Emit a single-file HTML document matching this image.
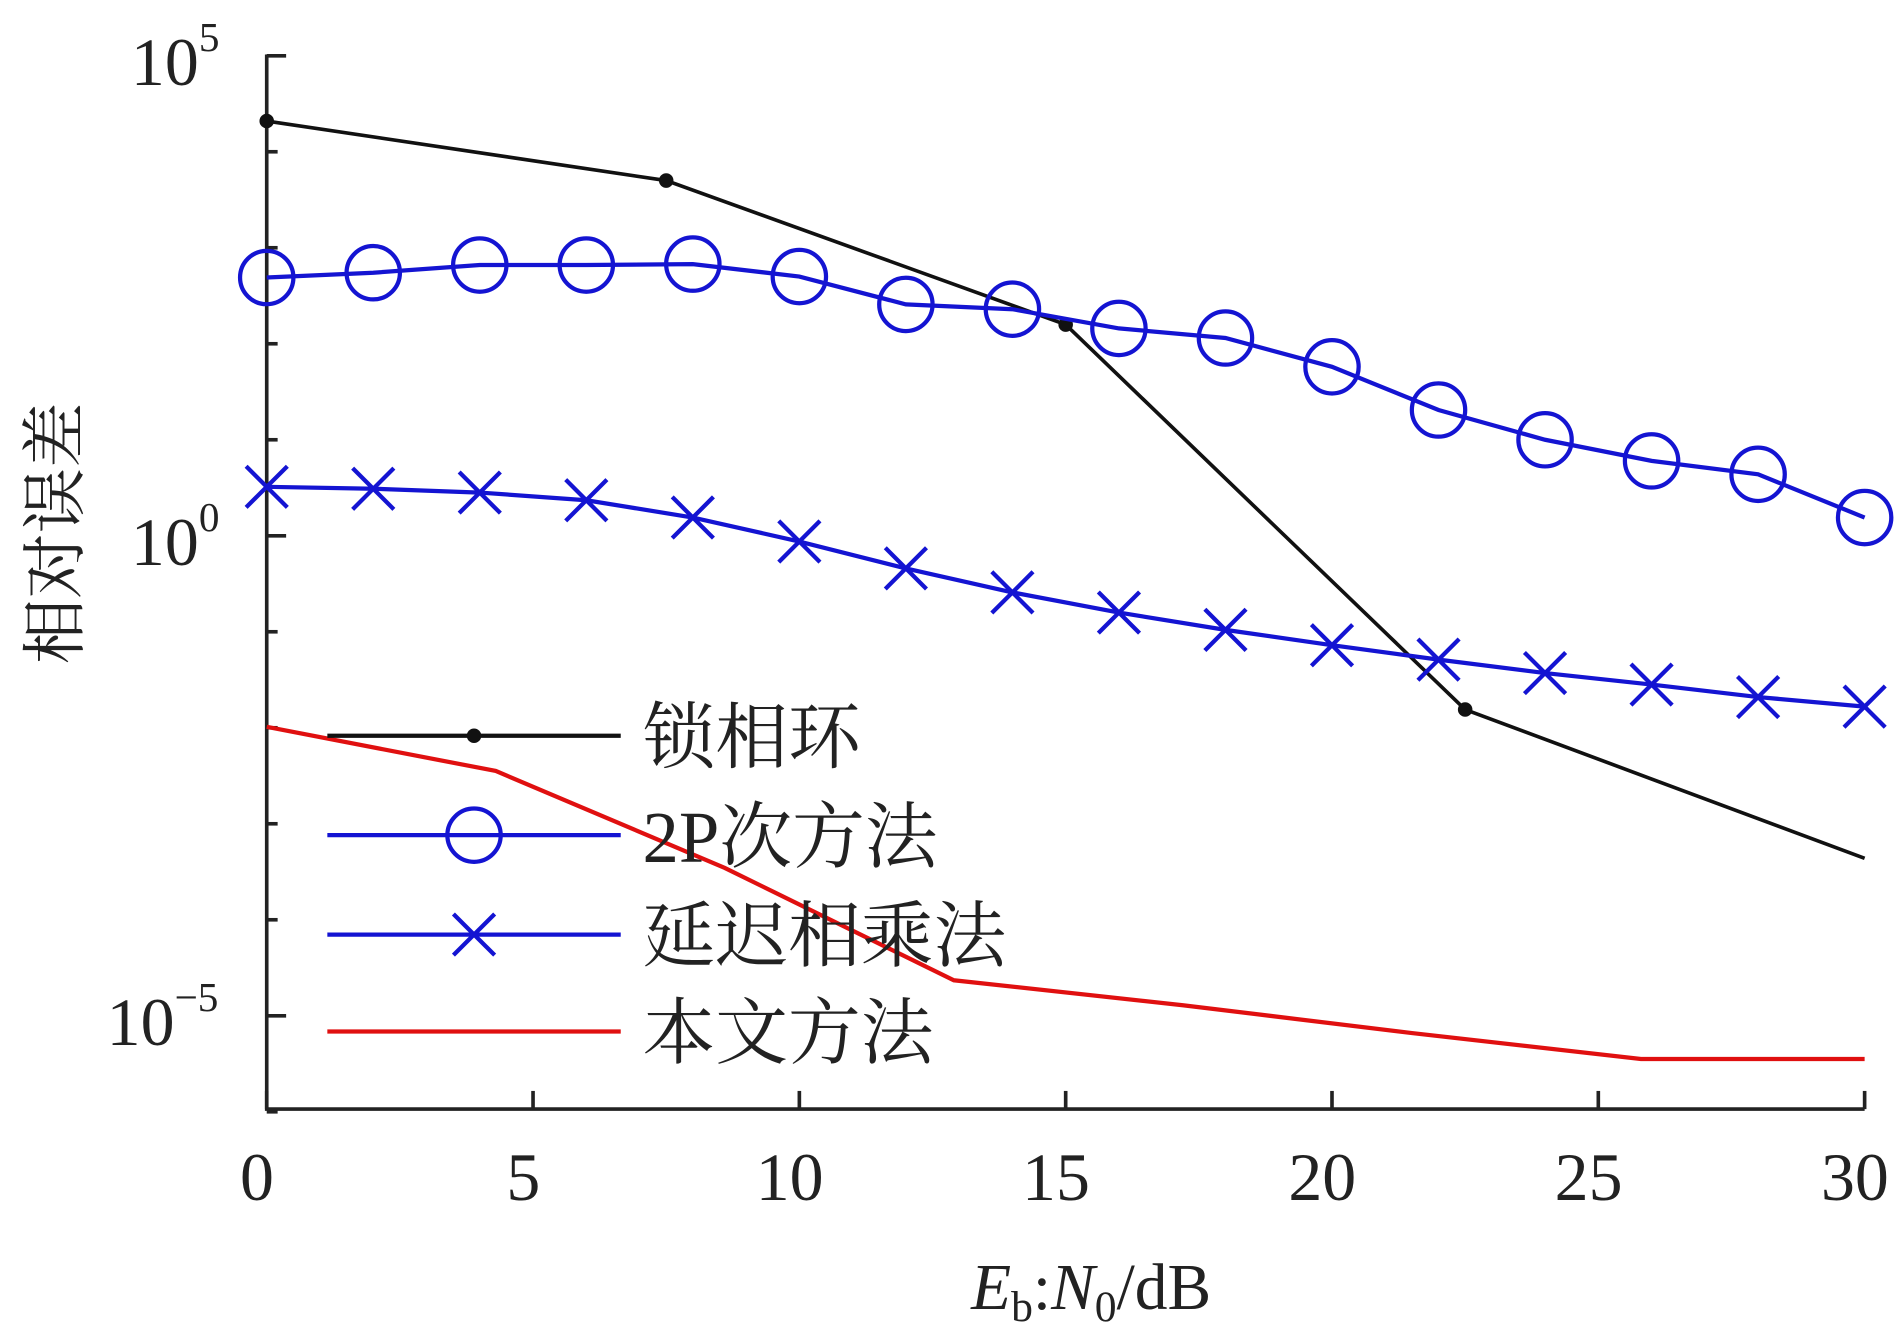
<!DOCTYPE html>
<html><head><meta charset="utf-8"><style>
html,body{margin:0;padding:0;background:#fff;}
svg{display:block;}
text{font-family:"Liberation Serif","Noto Serif CJK SC",serif;fill:#222;}
</style></head><body>
<svg id="chart" width="1901" height="1337" viewBox="0 0 1568 1103" preserveAspectRatio="none" xmlns="http://www.w3.org/2000/svg"></svg>
<script>
const xTicks=[0,5,10,15,20,25,30];
const pllX=[0,7.5,15,22.5,30];
const pllLog=[4.32,3.70,2.20,-1.81,-3.36];
const pllMarked=[true,true,true,true,false];
const twoPX=[0,2,4,6,8,10,12,14,16,18,20,22,24,26,28,30];
const twoPLog=[2.69,2.74,2.82,2.82,2.83,2.70,2.41,2.36,2.16,2.06,1.76,1.31,1.00,0.78,0.64,0.19];
const delayX=[0,2,4,6,8,10,12,14,16,18,20,22,24,26,28,30];
const delayLog=[0.51,0.49,0.45,0.37,0.19,-0.06,-0.34,-0.59,-0.80,-0.98,-1.14,-1.29,-1.43,-1.55,-1.68,-1.78];
const oursX=[0,4.3,8.6,12.9,17.2,21.5,25.8,30];
const oursLog=[-1.99,-2.45,-3.46,-4.63,-4.89,-5.18,-5.45,-5.45];

const NS="http://www.w3.org/2000/svg";
const svg=document.getElementById('chart');
const X=v=>220+v*(1538-220)/30;
const Y=l=>442-l*79.2;
function mk(tag,attrs,parent){const e=document.createElementNS(NS,tag);for(const k in attrs)e.setAttribute(k,attrs[k]);(parent||svg).appendChild(e);return e;}

let ax=mk('path',{d:'M220 45 V915 H1538',stroke:'#222','stroke-width':3,fill:'none'});


for(let d=5;d>=-6;d--){
  const y=Y(d);
  const major=(d%5===0);
  const t=mk('line',{x1:220,x2:major?236:229,y1:y,y2:y,stroke:'#222','stroke-width':3});
  
  
}
[[5,'5'],[0,'0'],[-5,'−5']].forEach(([d,s])=>{
  const g=mk('text',{x:d===-5?88:108,y:Y(d)+24,'font-size':56});
  
  
  g.textContent='10';
  const sp=mk('tspan',{dy:-28,'font-size':34},g);sp.textContent=s;
});
xTicks.forEach(v=>{
  const t=mk('line',{x1:X(v),x2:X(v),y1:915,y2:900,stroke:'#222','stroke-width':3});
  
  
  const l=mk('text',{x:X(v)-8,y:990,'font-size':56,'text-anchor':'middle'});
  
  
  l.textContent=v;
});
let yl=mk('text',{x:0,y:0,'font-size':54,'text-anchor':'middle',transform:'translate(64,440) rotate(-90)'});


yl.textContent='相对误差';
let xl=mk('text',{x:900,y:1080,'font-size':54,'text-anchor':'middle'});


xl.innerHTML='<tspan font-style="italic">E</tspan><tspan font-size="36" dy="10">b</tspan><tspan dy="-10">:</tspan><tspan font-style="italic">N</tspan><tspan font-size="36" dy="10">0</tspan><tspan dy="-10">/dB</tspan>';

function line(xs,ls,color,name,w){
  const p=mk('polyline',{points:xs.map((x,i)=>X(x)+','+Y(ls[i])).join(' '),stroke:color,'stroke-width':w,fill:'none'});
  
  
}
function circle(cx,cy,name){const c=mk('circle',{cx:cx,cy:cy,r:22,stroke:'#1414d2','stroke-width':3.5,fill:'none'});
  
  }
function cross(cx,cy,name){const s=17;const c=mk('path',{d:`M${cx-s} ${cy-s}L${cx+s} ${cy+s}M${cx-s} ${cy+s}L${cx+s} ${cy-s}`,stroke:'#1414d2','stroke-width':3.5});
  
  }
function dot(cx,cy,name){const c=mk('circle',{cx:cx,cy:cy,r:6,fill:'#111'});
  
  }

line(oursX,oursLog,'#e01010','series-ours',3.5);
line(pllX,pllLog,'#111','series-pll',3);
pllX.forEach((x,i)=>{if(pllMarked[i])dot(X(x),Y(pllLog[i]),'pll-point');});
line(twoPX,twoPLog,'#1414d2','series-2p',3.5);
twoPX.forEach((x,i)=>circle(X(x),Y(twoPLog[i]),'2p-point'));
line(delayX,delayLog,'#1414d2','series-delay',3.5);
delayX.forEach((x,i)=>cross(X(x),Y(delayLog[i]),'delay-point'));

const leg=[['锁相环','#111','dot'],['2P次方法','#1414d2','circle'],['延迟相乘法','#1414d2','cross'],['本文方法','#e01010','none']];
const ly=[607,689,771,851];
leg.forEach((e,i)=>{
  const l=mk('line',{x1:270,x2:512,y1:ly[i],y2:ly[i],stroke:e[1],'stroke-width':3.5});
  
  
  if(e[2]==='dot')dot(391,ly[i],'legend-marker');
  if(e[2]==='circle')circle(391,ly[i],'legend-marker');
  if(e[2]==='cross')cross(391,ly[i],'legend-marker');
  const t=mk('text',{x:530,y:ly[i]+22,'font-size':60});
  
  
  t.textContent=e[0];
});
</script>
</body></html>
